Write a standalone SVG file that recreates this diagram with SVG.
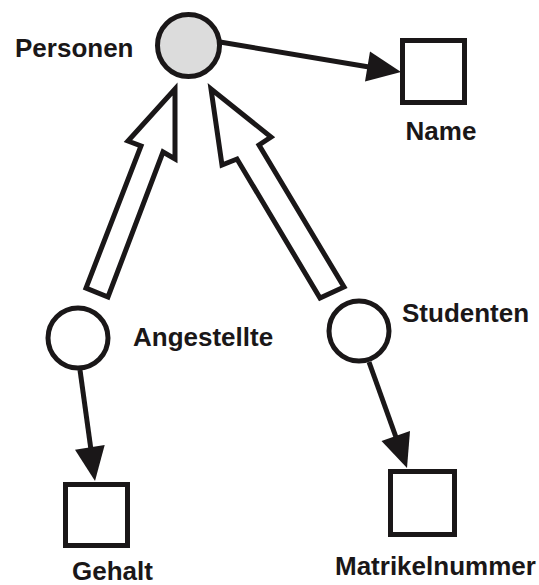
<svg xmlns="http://www.w3.org/2000/svg" width="539" height="585" viewBox="0 0 539 585">
<style>
.lbl{font-family:"Liberation Sans",Arial,sans-serif;font-weight:bold;font-size:26px;fill:#1a1718}
.ent{fill:#fff;stroke:#1a1718;stroke-width:5}
.cls{stroke:#1a1718;stroke-width:5}
.edge{stroke:#1a1718;stroke-width:5;fill:none}
.head{fill:#1a1718;stroke:none}
.isa{fill:#fff;stroke:#1a1718;stroke-width:5;stroke-linejoin:miter}
</style>
<rect width="539" height="585" fill="#fff"/>
<g id="connectors">
  <line class="edge" x1="220" y1="42" x2="372" y2="67.5"/>
  <polygon class="head" points="401,72 370,51.5 365,81.5"/>
  <line class="edge" x1="80" y1="370" x2="91" y2="450"/>
  <polygon class="head" points="95,481 104.7,445 75,449.7"/>
  <line class="edge" x1="369" y1="362" x2="397" y2="440"/>
  <polygon class="head" points="407,468 410,431 381.5,441"/>
  <path class="isa" d="M175,89 L175,159 L163,152 L108,297 L86,288 L141,146 L128,141 Z"/>
  <path class="isa" d="M211,89 L271,137 L259,145 L344,287 L320,298 L237,159 L222,165 Z"/>
</g>
<g id="personen">
  <circle class="cls" cx="188.5" cy="45.5" r="31" fill="#dcdcdc"/>
  <text class="lbl" x="15" y="57">Personen</text>
</g>
<g id="name">
  <rect class="ent" x="402.5" y="40.5" width="62" height="62"/>
  <text class="lbl" x="441" y="140" text-anchor="middle">Name</text>
</g>
<g id="angestellte">
  <circle class="ent" cx="78" cy="338" r="30"/>
  <text class="lbl" x="133" y="346">Angestellte</text>
</g>
<g id="studenten">
  <circle class="ent" cx="359" cy="331" r="30"/>
  <text class="lbl" x="402" y="322">Studenten</text>
</g>
<g id="gehalt">
  <rect class="ent" x="65.5" y="484.5" width="62" height="61"/>
  <text class="lbl" x="72" y="580">Gehalt</text>
</g>
<g id="matrikelnummer">
  <rect class="ent" x="390.5" y="471.5" width="64" height="63"/>
  <text class="lbl" x="335" y="575">Matrikelnummer</text>
</g>
</svg>
